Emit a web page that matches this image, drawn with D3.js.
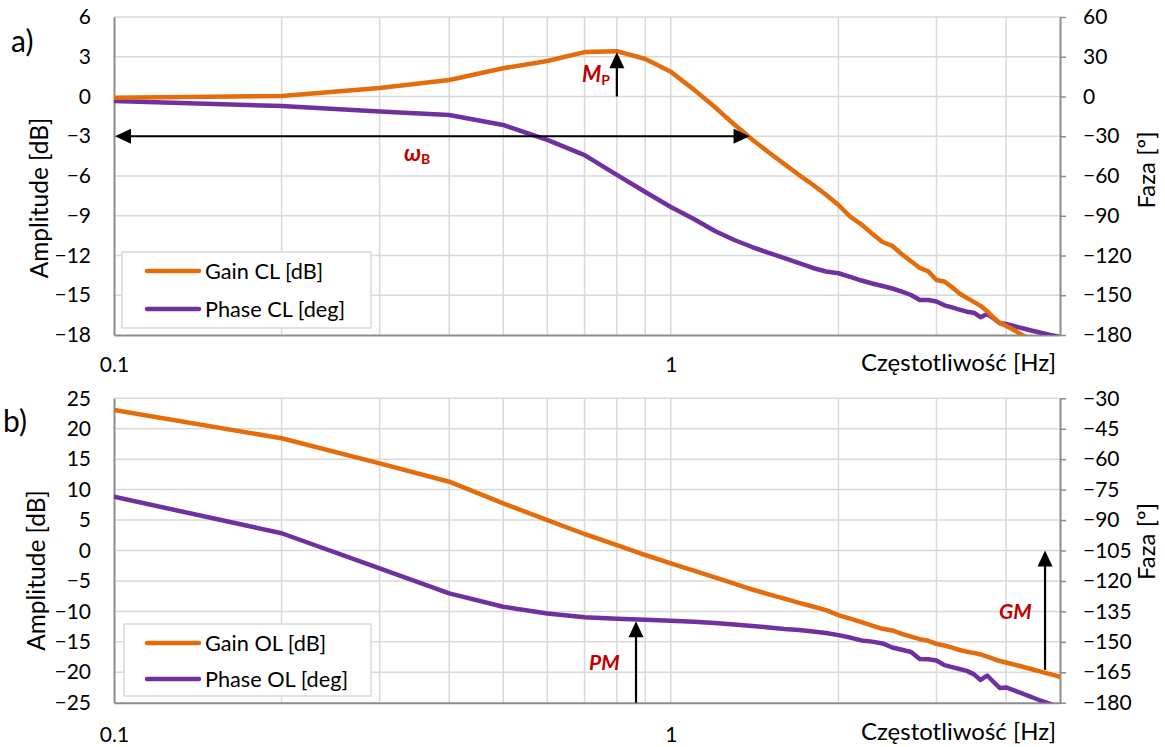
<!DOCTYPE html>
<html>
<head>
<meta charset="utf-8">
<script src="https://cdn.jsdelivr.net/npm/d3@7"></script>
<style>
  body { margin: 0; background: #fff; }
  svg text { font-family: Lato, "Open Sans", sans-serif; fill: #000; }
</style>
</head>
<body>
<svg id="chart" width="1165" height="747"></svg>
<script>
// Frequency points [Hz]
const freq = [0.1, 0.2, 0.3, 0.4, 0.5, 0.6, 0.7, 0.8, 0.9,
  1.0, 1.1, 1.2, 1.3, 1.4, 1.5, 1.6, 1.7, 1.8, 1.9,
  2.0, 2.1, 2.2, 2.3, 2.4, 2.5, 2.6, 2.7, 2.8, 2.9,
  3.0, 3.1, 3.2, 3.3, 3.4, 3.5, 3.6, 3.7, 3.8, 3.9,
  4.0, 4.1, 4.2, 4.3, 4.4, 4.5, 4.6, 4.7, 4.8, 4.9, 5.0];

// Closed loop response
const gainCL = [-0.1, 0.04, 0.64, 1.25, 2.13, 2.68, 3.35, 3.42, 2.83,
  1.87, 0.52, -0.80, -2.11, -3.25, -4.23, -5.10, -5.93, -6.66, -7.42,
  -8.19, -9.07, -9.66, -10.35, -10.98, -11.28, -11.9, -12.43, -12.94, -13.2,
  -13.85, -13.96, -14.4, -14.87, -15.2, -15.5, -15.8, -16.2, -16.7, -17.1,
  -17.3, -17.55, -17.8, -18.05, -18.3, -18.6, -18.9, -19.1, -19.4, -19.6, -19.9];
const phaseCL = [-3.4, -7.2, -11.4, -14.0, -21.5, -32.8, -44.2, -59.2, -72.1,
  -83.4, -92.5, -101.5, -108.3, -113.6, -118.1, -121.9, -125.7, -129.4, -132.1,
  -133.4, -136.2, -138.9, -141.1, -143.0, -144.9, -147.2, -149.8, -153.6, -153.6,
  -154.7, -157.6, -159.2, -160.8, -162.4, -163.2, -166.6, -164.2, -167.5, -171.2,
  -171.7, -172.8, -174.0, -175.1, -176.2, -177.2, -178.1, -179.0, -180.0, -180.8, -181.5];

// Open loop response
const gainOL = [23.08, 18.43, 14.3, 11.3, 7.75, 5.0, 2.71, 0.9, -0.74,
  -2.1, -3.32, -4.43, -5.45, -6.41, -7.2, -7.9, -8.6, -9.2, -9.8,
  -10.6, -11.2, -11.78, -12.35, -12.86, -13.14, -13.68, -14.16, -14.57, -14.83,
  -15.34, -15.6, -15.96, -16.34, -16.62, -16.82, -17.08, -17.44, -17.82, -18.15,
  -18.4, -18.64, -18.89, -19.14, -19.38, -19.63, -19.86, -20.09, -20.3, -20.52, -20.73];
const phaseOL = [-78.5, -96.5, -113.8, -126.1, -132.7, -136.0, -137.9, -138.6, -139.1,
  -139.6, -140.1, -140.7, -141.5, -142.2, -142.9, -143.7, -144.2, -144.9, -145.7,
  -146.7, -147.9, -149.3, -149.9, -150.8, -152.8, -153.9, -155.0, -158.5, -158.6,
  -159.2, -161.5, -162.5, -163.4, -164.3, -165.9, -168.8, -166.6, -169.8, -172.8,
  -172.5, -173.5, -174.7, -175.7, -176.8, -177.8, -178.8, -179.7, -180.6, -181.6, -182.4];

// Axis ticks
const ampTicksA = [-18, -15, -12, -9, -6, -3, 0, 3, 6];
const phaseTicksA = [-180, -150, -120, -90, -60, -30, 0, 30, 60];
const ampTicksB = [-25, -20, -15, -10, -5, 0, 5, 10, 15, 20, 25];
const phaseTicksB = [-180, -165, -150, -135, -120, -105, -90, -75, -60, -45, -30];
const freqTickLabels = [0.1, 1];

// Characteristic frequencies [Hz]
const fBandwidth = 1.385;   // -3 dB of the closed loop
const fPeak = 0.8;          // resonance peak
const fGainCross = 0.866;   // 0 dB crossing of the open loop
const fPhaseCross = 4.7;    // phase crossover

const ORANGE = "#E46C0A", PURPLE = "#7030A0", RED = "#C00000";
const GRID = "#d9d9d9", AXIS = "#8c8c8c";
const L = 114, R = 1060;
const FS_TICK = 21, FS_TITLE = 24, FS_AMP = 24.5, FS_LEG = 21.7, FS_TAG = 30;

const svg = d3.select("#chart");
svg.append("rect").attr("width", 1165).attr("height", 747).attr("fill", "#fff");
const defs = svg.append("defs");

function arrow(g, x1, y1, x2, y2, both) {
  const hl = 16, hw = 7.5;
  const a = Math.atan2(y2 - y1, x2 - x1), ux = Math.cos(a), uy = Math.sin(a);
  const sx = both ? x1 + ux * hl * 0.8 : x1, sy = both ? y1 + uy * hl * 0.8 : y1;
  g.append("line").attr("x1", sx).attr("y1", sy)
    .attr("x2", x2 - ux * hl * 0.8).attr("y2", y2 - uy * hl * 0.8)
    .attr("stroke", "#000").attr("stroke-width", 2.2);
  const tri = (tx, ty, dx, dy) => {
    const bx = tx - dx * hl, by = ty - dy * hl;
    return `M${tx},${ty}L${bx - dy * hw},${by + dx * hw}L${bx + dy * hw},${by - dx * hw}Z`;
  };
  g.append("path").attr("d", tri(x2, y2, ux, uy)).attr("fill", "#000");
  if (both) g.append("path").attr("d", tri(x1, y1, -ux, -uy)).attr("fill", "#000");
}

function panel(o) {
  const g = svg.append("g");
  const x = d3.scaleLog().domain([0.1, 5]).range([L, R]);
  const yA = d3.scaleLinear().domain(d3.extent(o.ampTicks)).range([o.bottom, o.top]);
  const yP = d3.scaleLinear().domain(d3.extent(o.phaseTicks)).range([o.bottom, o.top]);

  // grid
  g.append("g").selectAll("line").data(o.ampTicks.slice(1)).join("line")
    .attr("x1", L).attr("x2", R).attr("y1", d => yA(d)).attr("y2", d => yA(d))
    .attr("stroke", GRID).attr("stroke-width", 1.5);
  g.append("g").selectAll("line").data(x.ticks().filter(d => d > 0.1 + 1e-9 && d < 5 - 1e-9)).join("line")
    .attr("x1", d => x(d)).attr("x2", d => x(d)).attr("y1", o.top).attr("y2", o.bottom)
    .attr("stroke", GRID).attr("stroke-width", 1.5);

  // axes
  const ax = (sel) => {
    sel.attr("font-size", FS_TICK).attr("font-family", "Lato, 'Open Sans', sans-serif");
    sel.select(".domain").attr("stroke", AXIS).attr("stroke-width", 2);
    sel.selectAll(".tick line").attr("stroke", AXIS).attr("stroke-width", 1.5);
    sel.selectAll(".tick text").attr("fill", "#000");
  };
  g.append("g").attr("transform", `translate(${L},0)`)
    .call(d3.axisLeft(yA).tickValues(o.ampTicks).tickSize(0).tickSizeOuter(0).tickPadding(23).tickFormat(d3.format("d")))
    .call(ax);
  g.append("g").attr("transform", `translate(${R},0)`)
    .call(d3.axisRight(yP).tickValues(o.phaseTicks).tickSize(6).tickSizeOuter(0).tickPadding(17).tickFormat(d3.format("d")))
    .call(ax);
  g.append("g").attr("transform", `translate(0,${o.bottom})`)
    .call(d3.axisBottom(x).tickValues(freqTickLabels).tickSize(0).tickSizeOuter(0).tickPadding(o.xPad).tickFormat(d => String(d)))
    .call(ax);

  // titles
  g.append("text").attr("transform", `translate(${o.ampTitleX},${(o.top + o.bottom) / 2 + o.ampTitleDy}) rotate(-90)`)
    .attr("text-anchor", "middle").attr("font-size", FS_AMP).text("Amplitude [dB]");
  g.append("text").attr("transform", `translate(1155,${(o.top + o.bottom) / 2 + o.phaseTitleDy}) rotate(-90)`)
    .attr("text-anchor", "middle").attr("font-size", FS_TITLE).text("Faza [º]");
  g.append("text").attr("x", 1056).attr("y", o.bottom + o.xTitleDy)
    .attr("text-anchor", "end").attr("font-size", FS_TITLE).text("Częstotliwość [Hz]");
  g.append("text").attr("x", o.tagX).attr("y", o.tagY).attr("font-size", FS_TAG).text(o.tag);

  // data
  const clipId = "clip" + o.tag.replace(")", "");
  defs.append("clipPath").attr("id", clipId).append("rect")
    .attr("x", L).attr("y", o.top).attr("width", R - L).attr("height", o.bottom - o.top);
  const plot = g.append("g").attr("clip-path", `url(#${clipId})`);
  const lineA = d3.line().x((d, i) => x(freq[i])).y(d => yA(d));
  const lineP = d3.line().x((d, i) => x(freq[i])).y(d => yP(d));
  plot.append("path").datum(o.phase).attr("d", lineP).attr("fill", "none")
    .attr("stroke", PURPLE).attr("stroke-width", 4.5).attr("stroke-linejoin", "round").attr("stroke-linecap", "round");
  plot.append("path").datum(o.gain).attr("d", lineA).attr("fill", "none")
    .attr("stroke", ORANGE).attr("stroke-width", 4.5).attr("stroke-linejoin", "round").attr("stroke-linecap", "round");

  // legend
  const lg = g.append("g");
  lg.append("rect").attr("x", o.legend[0]).attr("y", o.legend[1]).attr("width", o.legend[2]).attr("height", o.legend[3])
    .attr("fill", "#fff").attr("stroke", GRID).attr("stroke-width", 1.5);
  o.names.forEach((n, i) => {
    const yy = o.legendRows[i];
    lg.append("line").attr("x1", 147).attr("x2", 199).attr("y1", yy).attr("y2", yy)
      .attr("stroke", i === 0 ? ORANGE : PURPLE).attr("stroke-width", 4.5).attr("stroke-linecap", "round");
    lg.append("text").attr("x", 205).attr("y", yy).attr("dy", "0.35em").attr("font-size", FS_LEG).text(n);
  });
  return { g, x, yA, yP };
}

// a) closed loop
const A = panel({
  top: 17, bottom: 335, ampTicks: ampTicksA, phaseTicks: phaseTicksA,
  gain: gainCL, phase: phaseCL, names: ["Gain CL [dB]", "Phase CL [deg]"],
  tag: "a)", tagX: 11, tagY: 52, xPad: 22, xTitleDy: 36,
  ampTitleX: 47.5, ampTitleDy: 22, phaseTitleDy: -6,
  legend: [122, 252, 249, 76], legendRows: [271, 309]
});
// b) open loop
const B = panel({
  top: 398.3, bottom: 702.7, ampTicks: ampTicksB, phaseTicks: phaseTicksB,
  gain: gainOL, phase: phaseOL, names: ["Gain OL [dB]", "Phase OL [deg]"],
  tag: "b)", tagX: 3, tagY: 432, xPad: 24, xTitleDy: 37,
  ampTitleX: 44.5, ampTitleDy: 20, phaseTitleDy: -9,
  legend: [124, 624, 247, 72], legendRows: [643, 679]
});

// annotations
const gainAt = d3.scaleLinear().domain(freq).range(gainCL);
const gainOLAt = d3.scaleLinear().domain(freq).range(gainOL);
const phaseOLAt = d3.scaleLinear().domain(freq).range(phaseOL);

const ann = svg.append("g");
arrow(ann, A.x(0.1) + 1, A.yA(-3), A.x(fBandwidth), A.yA(-3), true);
arrow(ann, A.x(fPeak), A.yA(0), A.x(fPeak), A.yA(gainAt(fPeak)) + 1, false);
arrow(ann, B.x(fGainCross), B.yP(-180), B.x(fGainCross), B.yP(phaseOLAt(fGainCross)) + 2, false);
arrow(ann, B.x(fPhaseCross), B.yA(gainOLAt(fPhaseCross)) - 3, B.x(fPhaseCross), B.yA(0), false);

const lab = (x, y, main, sub, fs) => {
  const t = ann.append("text").attr("x", x).attr("y", y).attr("font-size", fs)
    .attr("font-weight", "bold").attr("font-style", "italic").style("fill", RED);
  t.append("tspan").text(main);
  if (sub) t.append("tspan").attr("font-size", 14).attr("dy", 3).attr("font-style", "normal").text(sub);
};
lab(404, 161, "ω", "B", 23);
lab(582, 82, "M", "P", 22);
lab(589, 670, "PM", null, 21);
lab(999, 619, "GM", null, 21);
</script>
</body>
</html>
